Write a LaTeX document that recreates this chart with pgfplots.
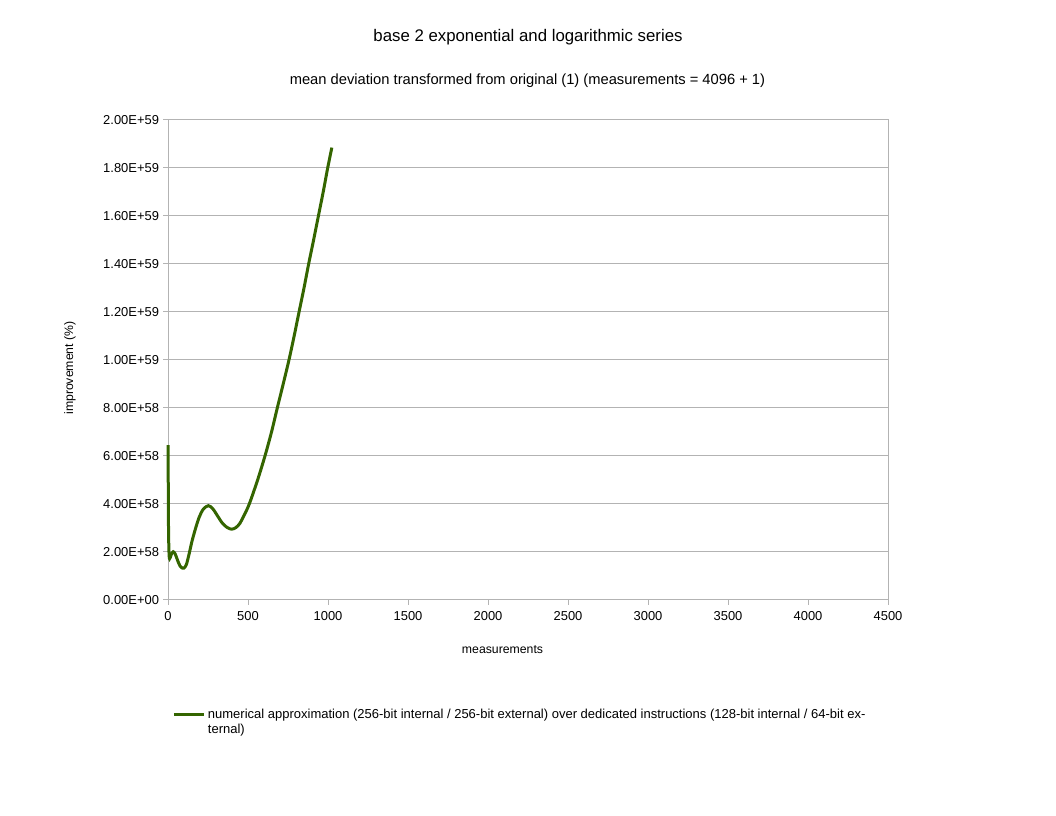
\documentclass[border=0pt]{standalone}
\usepackage{fontspec}
\setmainfont{Liberation Sans}
\usepackage{pgfplots}
\pgfplotsset{compat=1.18}
\definecolor{series}{RGB}{52,101,0}
\definecolor{gridc}{RGB}{179,179,179}
\begin{document}
\begin{tikzpicture}
\path[use as bounding box] (0,0) rectangle (792pt,612pt);
\begin{axis}[
  at={(126pt,162pt)}, anchor=south west,
  scale only axis, width=540pt, height=360pt,
  xmin=0, xmax=4500, ymin=0, ymax=2e59,
  clip=false,
  xtick={0,500,1000,1500,2000,2500,3000,3500,4000,4500},
  ytick={0,2e58,4e58,6e58,8e58,1e59,1.2e59,1.4e59,1.6e59,1.8e59,2e59},
  yticklabels={0.00E+00,2.00E+58,4.00E+58,6.00E+58,8.00E+58,1.00E+59,1.20E+59,1.40E+59,1.60E+59,1.80E+59,2.00E+59},
  scaled y ticks=false, scaled x ticks=false,
  /pgf/number format/assume math mode=true,
  /pgf/number format/set thousands separator={},
  axis line style={gridc, line width=0.75pt},
  tick style={gridc, line width=0.75pt},
  tick align=outside, major tick length=3.75pt,
  xtick pos=bottom, ytick pos=left,
  ymajorgrids, xmajorgrids=false,
  major grid style={gridc, line width=0.75pt},
  ticklabel style={font=\fontsize{9.7pt}{11pt}\selectfont},
  yticklabel style={xshift=0.5pt},
  xticklabel style={yshift=-1.5pt},
  legend style={at={(0.0,-0.215)}, anchor=north west, draw=none, fill=none,
    font=\fontsize{9.75pt}{11.25pt}\selectfont, cells={anchor=west}},
  legend image code/.code={\draw[series, line width=2.25pt] (0pt,0pt) -- (22.5pt,0pt);},
]
\addplot[series, line width=2.25pt, smooth, tension=0.5] coordinates {
(1,6.45e58) (2,4.0e58) (4,2.6e58) (7,1.85e58) (10,1.72e58) (15,1.78e58) (22,1.92e58)
(33,2.01e58) (45,1.92e58) (60,1.65e58) (75,1.42e58) (90,1.33e58) (100,1.33e58)
(115,1.48e58) (133,1.95e58) (150,2.45e58) (173,3.0e58) (195,3.45e58) (220,3.78e58)
(252,3.93e58) (280,3.8e58) (310,3.5e58) (340,3.2e58) (370,3.02e58) (398,2.95e58)
(425,3.02e58) (450,3.2e58) (475,3.52e58) (508,4.0e58) (560,5.0e58) (606,6.0e58) (647,7.0e58)
(683,8.0e58) (720,9.0e58) (756,10.0e58) (790,11.05e58) (819,12.0e58) (850,13.0e58)
(879,14.0e58) (910,15.0e58) (940,16.0e58) (970,17.0e58) (998,18.0e58) (1024,18.85e58)
};
\addlegendentry{\parbox[t]{520pt}{numerical approximation (256-bit internal / 256-bit external) over dedicated instructions (128-bit internal / 64-bit ex-\\ternal)}}
\end{axis}
\node[font=\fontsize{12.6pt}{15pt}\selectfont] at (396pt,584.25pt) {base 2 exponential and logarithmic series};
\node[font=\fontsize{11.04pt}{13pt}\selectfont] at (395.6pt,551.25pt) {mean deviation transformed from original (1) (measurements = 4096 + 1)};
\node[font=\fontsize{9.2pt}{11pt}\selectfont] at (376.9pt,124.5pt) {measurements};
\node[font=\fontsize{9.2pt}{11pt}\selectfont, rotate=90] at (52.5pt,336pt) {improvement (\%)};
\end{tikzpicture}
\end{document}
